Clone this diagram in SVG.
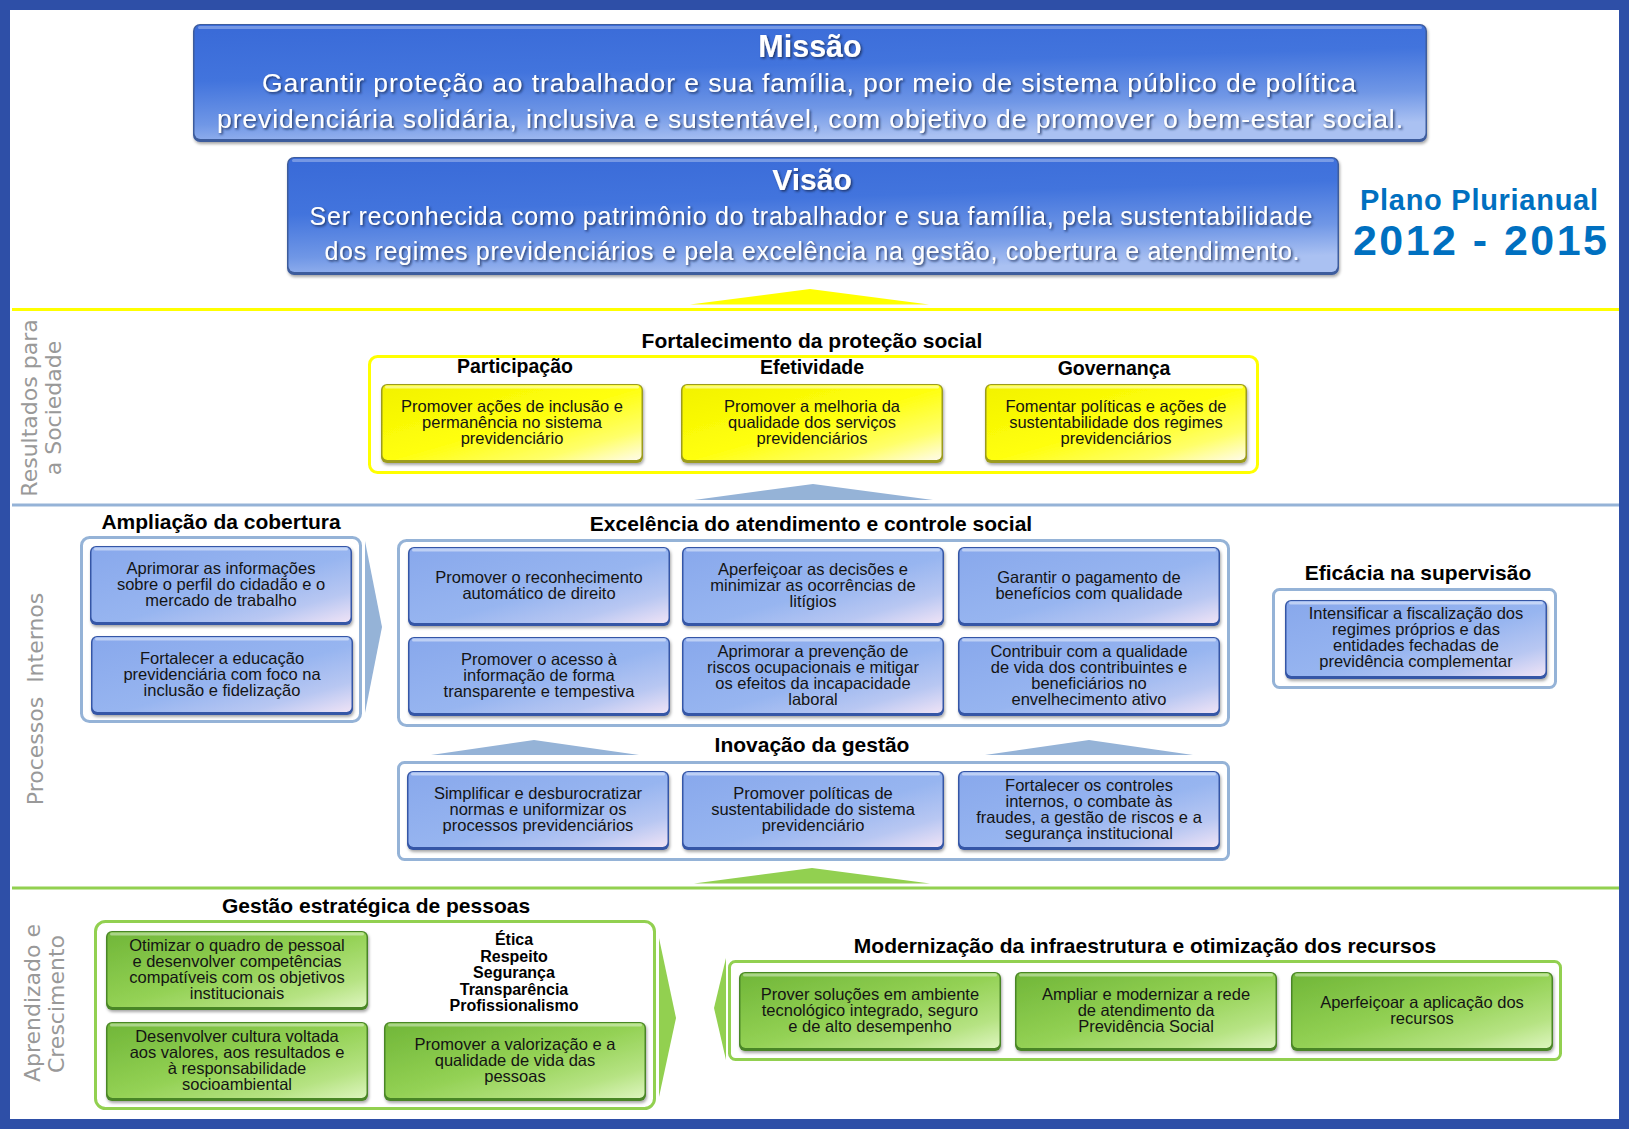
<svg xmlns="http://www.w3.org/2000/svg" xmlns:xlink="http://www.w3.org/1999/xlink" width="1643" height="1129" viewBox="0 0 1643 1129">
<defs>
<style>
.t1{font-family:"Liberation Sans",Arial,sans-serif;font-weight:bold;font-size:21px;fill:#000;text-anchor:middle}
.t2{font-family:"Liberation Sans",Arial,sans-serif;font-weight:bold;font-size:19.5px;fill:#000;text-anchor:middle}
.bt{font-family:"Liberation Sans",Arial,sans-serif;font-size:16.5px;fill:#141414;text-anchor:middle}
.vt{font-family:"Liberation Sans",Arial,sans-serif;font-weight:bold;font-size:16px;fill:#000;text-anchor:middle}
.lab{font-family:"DejaVu Sans",Verdana,sans-serif;font-size:22px;fill:#999999;text-anchor:middle}
.wt{font-family:"Liberation Sans",Arial,sans-serif;fill:#fff;text-anchor:middle}
.pp{font-family:"Liberation Sans",Arial,sans-serif;font-weight:bold;fill:#0070C0;text-anchor:middle}
.cb{fill:#fff;stroke:#95B3D7;stroke-width:3}
.cg{fill:#fff;stroke:#92D050;stroke-width:3}
.cy{fill:#fff;stroke:#FFFF00;stroke-width:3}
.sh{filter:url(#sh)}
</style>
<linearGradient id="gB" x1="0" y1="0" x2="1" y2="1">
<stop offset="0" stop-color="#88A8EC"/><stop offset="0.55" stop-color="#97B5F0"/><stop offset="0.8" stop-color="#B8C7F2"/><stop offset="1" stop-color="#EFE3F6"/>
</linearGradient>
<linearGradient id="gG" x1="0" y1="0" x2="1" y2="1">
<stop offset="0" stop-color="#70B638"/><stop offset="0.5" stop-color="#93D154"/><stop offset="0.8" stop-color="#B6E383"/><stop offset="1" stop-color="#DDF5BE"/>
</linearGradient>
<linearGradient id="gY" x1="0" y1="0" x2="1" y2="1">
<stop offset="0" stop-color="#F2F200"/><stop offset="0.5" stop-color="#FFFF0A"/><stop offset="0.8" stop-color="#FFFF6A"/><stop offset="1" stop-color="#FFFBEA"/>
</linearGradient>
<linearGradient id="gM" x1="0.2" y1="0" x2="0.5" y2="1">
<stop offset="0" stop-color="#3A6BD8"/><stop offset="0.4" stop-color="#4274DD"/><stop offset="0.75" stop-color="#7097E6"/><stop offset="1" stop-color="#AAC1F2"/>
</linearGradient>
<linearGradient id="gGray" x1="0" y1="0" x2="1" y2="0">
<stop offset="0" stop-color="#A0A0A0"/><stop offset="0.5" stop-color="#D6D6D6"/><stop offset="1" stop-color="#A8A8A8"/>
</linearGradient>
<filter id="sh" x="-5%" y="-10%" width="112%" height="130%">
<feDropShadow dx="1" dy="2" stdDeviation="1.5" flood-color="#000" flood-opacity="0.35"/>
</filter>
<filter id="ts" x="-2%" y="-20%" width="104%" height="150%">
<feDropShadow dx="1.5" dy="1.5" stdDeviation="1" flood-color="#172A55" flood-opacity="0.85"/>
</filter>
<g id="tB"><rect width="262" height="79" rx="6" fill="#3556A6"/><rect x="1.5" y="1" width="259" height="75" rx="5" fill="url(#gB)"/><rect x="4" y="1.5" width="254" height="3" rx="1.5" fill="#fff" opacity="0.45"/></g>
<g id="tG"><rect width="262" height="79" rx="6" fill="#4A8626"/><rect x="1.5" y="1" width="259" height="75" rx="5" fill="url(#gG)"/><rect x="4" y="1.5" width="254" height="3" rx="1.5" fill="#fff" opacity="0.4"/></g>
<g id="tY"><rect width="262" height="79" rx="6" fill="#9C9C1E"/><rect x="1.5" y="1" width="259" height="75" rx="5" fill="url(#gY)"/><rect x="4" y="1.5" width="254" height="3" rx="1.5" fill="#fff" opacity="0.5"/></g>
</defs>

<rect x="0" y="0" width="1643" height="1129" fill="#fff"/>
<rect x="0" y="0" width="1629" height="1129" fill="#2E4FA7"/>
<rect x="10" y="10" width="1609" height="1109" fill="#fff"/>

<g id="dividers">
<line x1="12" y1="309.5" x2="1619" y2="309.5" stroke="#FFFF00" stroke-width="3"/>
<line x1="12" y1="505" x2="1619" y2="505" stroke="#95B3D7" stroke-width="3"/>
<line x1="12" y1="888" x2="1619" y2="888" stroke="#92D050" stroke-width="3"/>
</g>

<g id="labels">
<text class="lab" transform="translate(37,408) rotate(-90)">Resultados para</text>
<text class="lab" transform="translate(61,408) rotate(-90)">a Sociedade</text>
<text class="lab" transform="translate(43,699) rotate(-90)">Processos&#160; Internos</text>
<text class="lab" transform="translate(40,1003) rotate(-90)">Aprendizado e</text>
<text class="lab" transform="translate(64,1004) rotate(-90)">Crescimento</text>
</g>

<g id="missao">
<rect x="193" y="24" width="1234" height="118" rx="7" fill="#3E5C9C" class="sh"/>
<rect x="194.5" y="25" width="1231" height="114" rx="6" fill="url(#gM)"/>
<rect x="198" y="26" width="1224" height="3" rx="1.5" fill="#fff" opacity="0.3"/>
<g filter="url(#ts)">
<text class="wt" x="810" y="57" font-size="30.5" font-weight="bold">Missão</text>
<text class="wt" x="809" y="92" font-size="26.5" textLength="1094" lengthAdjust="spacing">Garantir proteção ao trabalhador e sua família, por meio de sistema público de política</text>
<text class="wt" x="810" y="128" font-size="26.5" textLength="1186" lengthAdjust="spacing">previdenciária solidária, inclusiva e sustentável, com objetivo de promover o bem-estar social.</text>
</g>
</g>

<g id="visao">
<rect x="287" y="157" width="1052" height="118" rx="7" fill="#3E5C9C" class="sh"/>
<rect x="288.5" y="158" width="1049" height="114" rx="6" fill="url(#gM)"/>
<rect x="292" y="159" width="1042" height="3" rx="1.5" fill="#fff" opacity="0.3"/>
<g filter="url(#ts)">
<text class="wt" x="812" y="190" font-size="30" font-weight="bold">Visão</text>
<text class="wt" x="811" y="225" font-size="25" textLength="1003" lengthAdjust="spacing">Ser reconhecida como patrimônio do trabalhador e sua família, pela sustentabilidade</text>
<text class="wt" x="812" y="260" font-size="25" textLength="975" lengthAdjust="spacing">dos regimes previdenciários e pela excelência na gestão, cobertura e atendimento.</text>
</g>
</g>

<g id="plano">
<text class="pp" x="1479" y="210" font-size="29" textLength="238" lengthAdjust="spacing">Plano Plurianual</text>
<text class="pp" x="1480" y="255" font-size="43" textLength="254" lengthAdjust="spacing">2012 - 2015</text>
</g>

<g id="connectors">
<polygon points="690,304.5 810,289 929,304.5" fill="#FFFF00"/>
<polygon points="694,500 813,484 933,500" fill="#95B3D7"/>
<polygon points="694,883.5 812,868 930,883.5" fill="#92D050"/>
<polygon points="431,755 534,740 639,755" fill="#95B3D7"/>
<polygon points="985,755 1089,740 1193,755" fill="#95B3D7"/>
<polygon points="647,385 661,423 647,463" fill="url(#gGray)"/>
<polygon points="981,385 968,423 981,463" fill="url(#gGray)"/>
<polygon points="365,541 382,627 365,713" fill="#95B3D7"/>
<polygon points="659,938 676,1018 659,1097" fill="#92D050"/>
<polygon points="726,958 714,1008 726,1060" fill="#92D050"/>
</g>

<g id="resultados">
<text class="t1" x="812" y="348">Fortalecimento da proteção social</text>
<rect class="cy" x="369.5" y="356.5" width="888" height="116" rx="8"/>
<text class="t2" x="515" y="373">Participação</text>
<text class="t2" x="812" y="374">Efetividade</text>
<text class="t2" x="1114" y="375">Governança</text>
<g id="y1"><use href="#tY" x="381" y="384" class="sh"/><text class="bt" x="512" y="412">Promover ações de inclusão e<tspan x="512" dy="16">permanência no sistema</tspan><tspan x="512" dy="16">previdenciário</tspan></text></g>
<g id="y2"><use href="#tY" x="681" y="384" class="sh"/><text class="bt" x="812" y="412">Promover a melhoria da<tspan x="812" dy="16">qualidade dos serviços</tspan><tspan x="812" dy="16">previdenciários</tspan></text></g>
<g id="y3"><use href="#tY" x="985" y="384" class="sh"/><text class="bt" x="1116" y="412">Fomentar políticas e ações de<tspan x="1116" dy="16">sustentabilidade dos regimes</tspan><tspan x="1116" dy="16">previdenciários</tspan></text></g>
</g>

<g id="ampliacao">
<text class="t1" x="221" y="529">Ampliação da cobertura</text>
<rect class="cb" x="81.5" y="537.5" width="279" height="184" rx="8"/>
<g id="a1"><use href="#tB" x="90" y="546" class="sh"/><text class="bt" x="221" y="574">Aprimorar as informações<tspan x="221" dy="16">sobre o perfil do cidadão e o</tspan><tspan x="221" dy="16">mercado de trabalho</tspan></text></g>
<g id="a2"><use href="#tB" x="91" y="636" class="sh"/><text class="bt" x="222" y="664">Fortalecer a educação<tspan x="222" dy="16">previdenciária com foco na</tspan><tspan x="222" dy="16">inclusão e fidelização</tspan></text></g>
</g>

<g id="excelencia">
<text class="t1" x="811" y="531">Excelência do atendimento e controle social</text>
<rect class="cb" x="398.5" y="540.5" width="830" height="185" rx="8"/>
<g id="e1"><use href="#tB" x="408" y="547" class="sh"/><text class="bt" x="539" y="583">Promover o reconhecimento<tspan x="539" dy="16">automático de direito</tspan></text></g>
<g id="e2"><use href="#tB" x="682" y="547" class="sh"/><text class="bt" x="813" y="575">Aperfeiçoar as decisões e<tspan x="813" dy="16">minimizar as ocorrências de</tspan><tspan x="813" dy="16">litígios</tspan></text></g>
<g id="e3"><use href="#tB" x="958" y="547" class="sh"/><text class="bt" x="1089" y="583">Garantir o pagamento de<tspan x="1089" dy="16">benefícios com qualidade</tspan></text></g>
<g id="e4"><use href="#tB" x="408" y="637" class="sh"/><text class="bt" x="539" y="665">Promover o acesso à<tspan x="539" dy="16">informação de forma</tspan><tspan x="539" dy="16">transparente e tempestiva</tspan></text></g>
<g id="e5"><use href="#tB" x="682" y="637" class="sh"/><text class="bt" x="813" y="657">Aprimorar a prevenção de<tspan x="813" dy="16">riscos ocupacionais e mitigar</tspan><tspan x="813" dy="16">os efeitos da incapacidade</tspan><tspan x="813" dy="16">laboral</tspan></text></g>
<g id="e6"><use href="#tB" x="958" y="637" class="sh"/><text class="bt" x="1089" y="657">Contribuir com a qualidade<tspan x="1089" dy="16">de vida dos contribuintes e</tspan><tspan x="1089" dy="16">beneficiários no</tspan><tspan x="1089" dy="16">envelhecimento ativo</tspan></text></g>
</g>

<g id="eficacia">
<text class="t1" x="1418" y="580">Eficácia na supervisão</text>
<rect class="cb" x="1273.5" y="589.5" width="282" height="98" rx="6"/>
<g id="f1"><use href="#tB" x="1285" y="600" class="sh"/><text class="bt" x="1416" y="619">Intensificar a fiscalização dos<tspan x="1416" dy="16">regimes próprios e das</tspan><tspan x="1416" dy="16">entidades fechadas de</tspan><tspan x="1416" dy="16">previdência complementar</tspan></text></g>
</g>

<g id="inovacao">
<text class="t1" x="812" y="752">Inovação da gestão</text>
<rect class="cb" x="398.5" y="762.5" width="830" height="97" rx="6"/>
<g id="i1"><use href="#tB" x="407" y="771" class="sh"/><text class="bt" x="538" y="799">Simplificar e desburocratizar<tspan x="538" dy="16">normas e uniformizar os</tspan><tspan x="538" dy="16">processos previdenciários</tspan></text></g>
<g id="i2"><use href="#tB" x="682" y="771" class="sh"/><text class="bt" x="813" y="799">Promover políticas de<tspan x="813" dy="16">sustentabilidade do sistema</tspan><tspan x="813" dy="16">previdenciário</tspan></text></g>
<g id="i3"><use href="#tB" x="958" y="771" class="sh"/><text class="bt" x="1089" y="791">Fortalecer os controles<tspan x="1089" dy="16">internos, o combate às</tspan><tspan x="1089" dy="16">fraudes, a gestão de riscos e a</tspan><tspan x="1089" dy="16">segurança institucional</tspan></text></g>
</g>

<g id="gestao">
<text class="t1" x="376" y="913">Gestão estratégica de pessoas</text>
<rect class="cg" x="95.5" y="921.5" width="559" height="187" rx="10"/>
<g id="g1"><use href="#tG" x="106" y="931" class="sh"/><text class="bt" x="237" y="951">Otimizar o quadro de pessoal<tspan x="237" dy="16">e desenvolver competências</tspan><tspan x="237" dy="16">compatíveis com os objetivos</tspan><tspan x="237" dy="16">institucionais</tspan></text></g>
<g id="g2"><use href="#tG" x="106" y="1022" class="sh"/><text class="bt" x="237" y="1042">Desenvolver cultura voltada<tspan x="237" dy="16">aos valores, aos resultados e</tspan><tspan x="237" dy="16">à responsabilidade</tspan><tspan x="237" dy="16">socioambiental</tspan></text></g>
<g id="g3"><use href="#tG" x="384" y="1022" class="sh"/><text class="bt" x="515" y="1050">Promover a valorização e a<tspan x="515" dy="16">qualidade de vida das</tspan><tspan x="515" dy="16">pessoas</tspan></text></g>
<g id="valores"><text class="vt" x="514" y="945">Ética<tspan x="514" dy="16.5">Respeito</tspan><tspan x="514" dy="16.5">Segurança</tspan><tspan x="514" dy="16.5">Transparência</tspan><tspan x="514" dy="16.5">Profissionalismo</tspan></text></g>
</g>

<g id="modernizacao">
<text class="t1" x="1145" y="953">Modernização da infraestrutura e otimização dos recursos</text>
<rect class="cg" x="729.5" y="961.5" width="831" height="98" rx="6"/>
<g id="m1"><use href="#tG" x="739" y="972" class="sh"/><text class="bt" x="870" y="1000">Prover soluções em ambiente<tspan x="870" dy="16">tecnológico integrado, seguro</tspan><tspan x="870" dy="16">e de alto desempenho</tspan></text></g>
<g id="m2"><use href="#tG" x="1015" y="972" class="sh"/><text class="bt" x="1146" y="1000">Ampliar e modernizar a rede<tspan x="1146" dy="16">de atendimento da</tspan><tspan x="1146" dy="16">Previdência Social</tspan></text></g>
<g id="m3"><use href="#tG" x="1291" y="972" class="sh"/><text class="bt" x="1422" y="1008">Aperfeiçoar a aplicação dos<tspan x="1422" dy="16">recursos</tspan></text></g>
</g>
</svg>
